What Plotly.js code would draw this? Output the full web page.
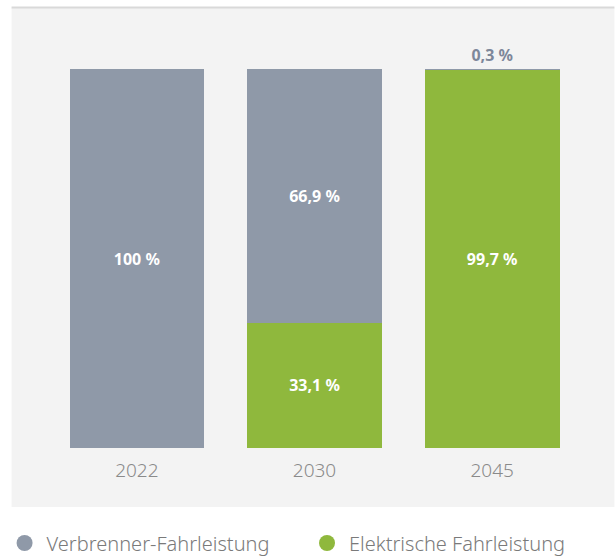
<!DOCTYPE html>
<html><head><meta charset="utf-8">
<script src="https://cdn.plot.ly/plotly-3.0.1.min.js"></script>
<style>html,body{margin:0;padding:0;background:#fff;}#chart{width:615px;height:556px;}</style>
</head><body><div id="chart"></div>
<script>
const categories = ['2022', '2030', '2045'];
const verbrenner = [100, 66.9, 0.3];
const elektrisch = [0, 33.1, 99.7];
const seriesNames = ['Verbrenner-Fahrleistung', 'Elektrische Fahrleistung'];

const grey = '#8f99a8', green = '#8fb83d';
function fmt(v) { return v === 100 ? '100 %' : v.toFixed(1).replace('.', ',') + ' %'; }

const font = 'Noto Sans, Open Sans, sans-serif';
const traces = [
  {
    type: 'bar', x: categories, y: elektrisch, name: seriesNames[1], showlegend: false,
    marker: {color: green},
    text: elektrisch.map(v => v > 0 ? fmt(v) : ''),
    textposition: 'inside', insidetextanchor: 'middle',
    textfont: {color: '#ffffff', size: 16, family: font, weight: 700},
    hoverinfo: 'none', cliponaxis: false
  },
  {
    type: 'bar', x: categories, y: verbrenner, name: seriesNames[0], showlegend: false,
    marker: {color: grey},
    text: verbrenner.map(fmt),
    textposition: verbrenner.map(v => v < 5 ? 'outside' : 'inside'),
    insidetextanchor: 'middle',
    insidetextfont: {color: '#ffffff', size: 16, family: font, weight: 700},
    outsidetextfont: {color: '#7d879a', size: 16, family: font, weight: 700},
    hoverinfo: 'none', cliponaxis: false
  },
  {type: 'scatter', x: [null], y: [null], mode: 'markers', name: seriesNames[0], legend: 'legend',
   marker: {color: grey, size: 16, symbol: 'circle'}, showlegend: true},
  {type: 'scatter', x: [null], y: [null], mode: 'markers', name: seriesNames[1], legend: 'legend2',
   marker: {color: green, size: 16, symbol: 'circle'}, showlegend: true}
];

const L = 47.5, PW = 534, B = 448, PH = 379;
const px = v => (v - L) / PW, py = v => (B - v) / PH;
const legendFont = {size: 20, color: '#7a7a7a', family: font, weight: 300};

const layout = {
  width: 615, height: 556,
  margin: {l: 47.5, r: 33.5, t: 69, b: 108, autoexpand: false},
  paper_bgcolor: '#ffffff', plot_bgcolor: 'rgba(0,0,0,0)',
  barmode: 'stack', bargap: 0.242,
  font: {family: font},
  xaxis: {type: 'category', range: [-0.5, 2.5], showgrid: false, zeroline: false, showline: false,
    ticks: '', ticklabelstandoff: 9, tickfont: {size: 19, color: '#8a8a8a', family: font, weight: 300}, fixedrange: true},
  yaxis: {range: [0, 100], visible: false, fixedrange: true},
  showlegend: true,
  legend: {orientation: 'h', x: px(2), xanchor: 'left', y: py(543), yanchor: 'middle', itemwidth: 34,
    font: legendFont, bgcolor: 'rgba(0,0,0,0)'},
  legend2: {orientation: 'h', x: px(305), xanchor: 'left', y: py(543), yanchor: 'middle', itemwidth: 34,
    font: legendFont, bgcolor: 'rgba(0,0,0,0)'},
  shapes: [
    {type: 'rect', xref: 'paper', yref: 'paper', x0: px(11), x1: px(615), y0: py(507), y1: py(8),
     fillcolor: '#f3f3f3', line: {width: 0}, layer: 'below'},
    {type: 'line', xref: 'paper', yref: 'paper', x0: px(11), x1: px(615), y0: py(7.5), y1: py(7.5),
     line: {color: '#d9d9d9', width: 2}, layer: 'below'}
  ]
};

Plotly.newPlot('chart', traces, layout, {displayModeBar: false, staticPlot: true});
</script></body></html>
